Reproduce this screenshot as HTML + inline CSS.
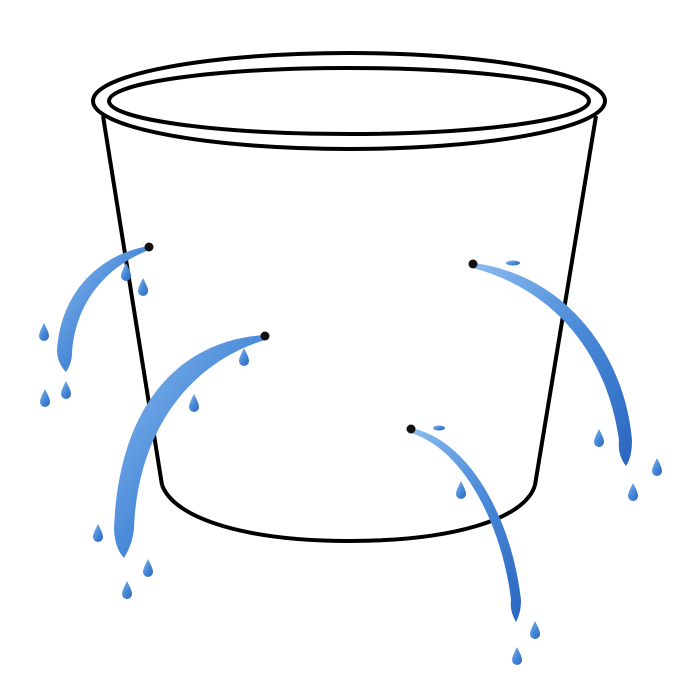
<!DOCTYPE html>
<html><head><meta charset="utf-8"><style>html,body{margin:0;padding:0;background:#fff}svg{display:block}</style></head>
<body>
<svg width="700" height="700" viewBox="0 0 700 700">
<defs>
<linearGradient id="w" x1="0" y1="0" x2="1" y2="1">
<stop offset="0" stop-color="#8cbcf0"/><stop offset="0.5" stop-color="#4a8ad8"/><stop offset="1" stop-color="#2a66bf"/>
</linearGradient>
<path id="drop" d="M0,-9 C3,-3 5,1 5,4 A5,5 0 0 1 -5,4 C-5,1 -3,-3 0,-9 Z"/>
</defs>
<g fill="none" stroke="#000" stroke-width="4">
<ellipse cx="349" cy="101" rx="256" ry="48"/>
<ellipse cx="349" cy="101" rx="240" ry="33"/>
<path d="M103,116 L162,485"/>
<path d="M596,116 L535,485"/>
<path d="M162,485 C175,520 250,541 349,541 C450,541 525,520 535,485"/>
</g>
<g fill="url(#w)">
<path d="M149,246 C100,254 60,292 57,352 C58,362 62,368 66,372 C70,366 72,360 72,352 C76,300 108,266 149,250 Z"/>
<path d="M265,335 C180,340 118,405 114,530 C115,545 119,552 124,558 C129,550 133,540 134,528 C138,428 192,362 265,340 Z"/>
<path d="M473,263 C562,274 624,350 632,440 C632,452 630,460 626,466 C620,458 618,450 619,440 C608,362 562,292 473,268 Z"/>
<path d="M411,428 C470,440 512,520 521,600 C521,610 519,616 516,622 C512,615 510,608 511,600 C503,530 466,450 411,433 Z"/>
</g>
<g fill="url(#w)">
<use href="#drop" x="44" y="332"/><use href="#drop" x="45" y="398"/><use href="#drop" x="66" y="390"/>
<use href="#drop" x="143" y="287"/><use href="#drop" x="126" y="272"/>
<use href="#drop" x="98" y="533"/><use href="#drop" x="127" y="590"/><use href="#drop" x="148" y="568"/>
<use href="#drop" x="194" y="403"/><use href="#drop" x="244" y="357"/>
<use href="#drop" x="599" y="438"/><use href="#drop" x="633" y="492"/><use href="#drop" x="657" y="467"/>
<use href="#drop" x="461" y="490"/><use href="#drop" x="517" y="656"/><use href="#drop" x="535" y="630"/>
<ellipse cx="513" cy="263" rx="7" ry="2.5"/><ellipse cx="439" cy="428" rx="6" ry="2.5"/>
</g>
<g fill="#111">
<circle cx="149" cy="247" r="4.5"/>
<circle cx="265" cy="336" r="4.5"/>
<circle cx="473" cy="264" r="4.5"/>
<circle cx="411" cy="429" r="4.5"/>
</g>
</svg>
</body></html>
